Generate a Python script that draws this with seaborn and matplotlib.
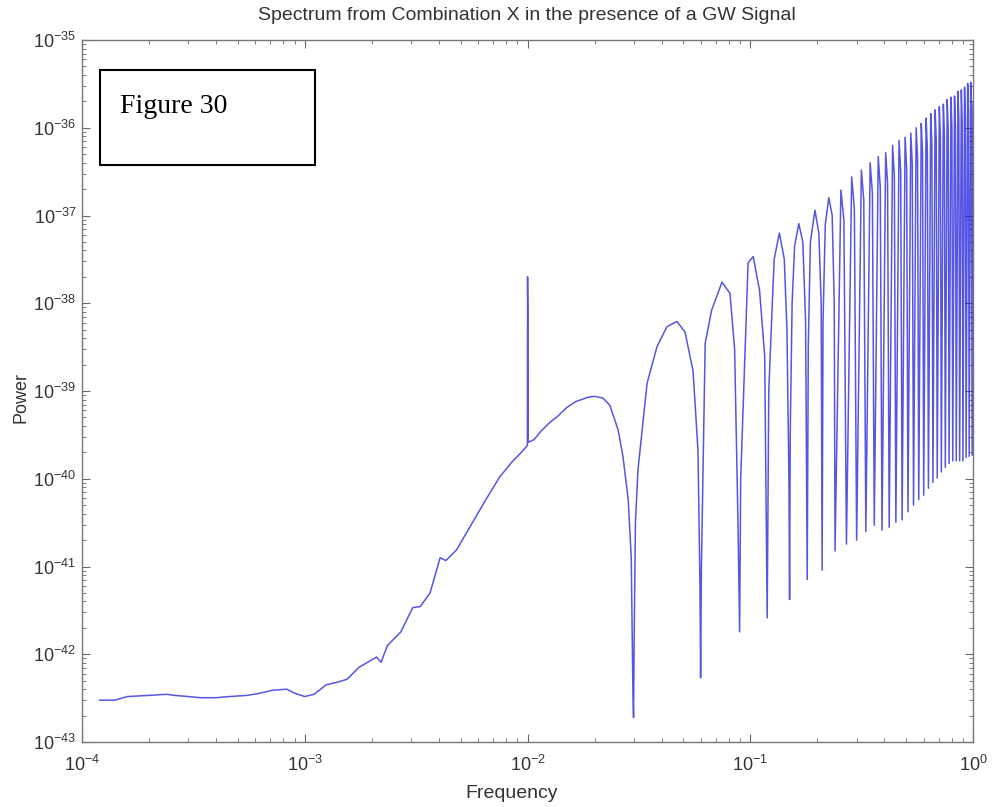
import numpy as np
import pandas as pd
import matplotlib
matplotlib.use("Agg")
import matplotlib.pyplot as plt
import seaborn as sns
from matplotlib.patches import Rectangle
from matplotlib.ticker import LogLocator, FixedFormatter, FixedLocator

# ---- data ----
# low-frequency continuum, the 10 mHz GW line and the first lobes
freq_low = [1.2e-4, 1.4e-4, 1.6e-4, 2.0e-4, 2.4e-4, 2.6e-4, 3.0e-4, 3.4e-4, 4.0e-4,
            4.6e-4, 5.5e-4, 6.3e-4, 7.2e-4, 8.3e-4, 9.0e-4, 1.0e-3, 1.1e-3, 1.25e-3,
            1.4e-3, 1.55e-3, 1.75e-3, 2.1e-3, 2.2e-3, 2.35e-3, 2.7e-3, 3.05e-3, 3.3e-3,
            3.65e-3, 4.05e-3, 4.3e-3, 4.8e-3, 5.5e-3, 6.5e-3, 7.5e-3, 8.5e-3, 9.55e-3,
            0.00998, 0.01000, 0.01003, 0.01006, 0.0107, 0.0115, 0.0126, 0.0137, 0.015,
            0.0165, 0.0187, 0.020, 0.0218, 0.0234, 0.0255, 0.0268, 0.0283, 0.0292,
            0.0297, 0.0299, 0.0301, 0.0305, 0.0313, 0.0344, 0.0381, 0.0422, 0.0468,
            0.0509, 0.0553, 0.0582, 0.0594, 0.0598, 0.0603, 0.0627, 0.067, 0.0746,
            0.081, 0.085, 0.088, 0.0895, 0.0905, 0.0977, 0.103, 0.110, 0.116, 0.119,
            0.121, 0.125, 0.128, 0.135, 0.142, 0.146, 0.149, 0.150, 0.151, 0.154,
            0.158, 0.165, 0.172, 0.177, 0.180, 0.182, 0.186, 0.195, 0.203, 0.208,
            0.210, 0.212, 0.217, 0.225, 0.233, 0.238, 0.240]
power_low = [3.0e-43, 3.0e-43, 3.3e-43, 3.4e-43, 3.5e-43, 3.4e-43, 3.3e-43, 3.2e-43, 3.2e-43,
             3.3e-43, 3.4e-43, 3.6e-43, 3.9e-43, 4.0e-43, 3.6e-43, 3.3e-43, 3.5e-43, 4.5e-43,
             4.8e-43, 5.2e-43, 7.1e-43, 9.3e-43, 8.1e-43, 1.26e-42, 1.8e-42, 3.4e-42, 3.5e-42,
             5.0e-42, 1.26e-41, 1.17e-41, 1.55e-41, 2.8e-41, 5.8e-41, 1.05e-40, 1.55e-40, 2.1e-40,
             2.4e-40, 2.0e-38, 8.9e-39, 2.6e-40, 2.8e-40, 3.5e-40, 4.4e-40, 5.2e-40, 6.5e-40,
             7.6e-40, 8.5e-40, 8.7e-40, 8.3e-40, 6.9e-40, 3.6e-40, 1.8e-40, 5.8e-41, 1.26e-41,
             3.9e-43, 1.9e-43, 1.6e-42, 3.2e-41, 1.26e-40, 1.23e-39, 3.2e-39, 5.4e-39, 6.2e-39,
             4.7e-39, 1.7e-39, 2.1e-40, 6.3e-42, 5.4e-43, 1.0e-41, 3.5e-39, 8.3e-39, 1.74e-38,
             1.3e-38, 3.0e-39, 3.2e-41, 1.8e-42, 1.0e-40, 2.9e-38, 3.4e-38, 1.4e-38, 2.5e-39, 2.6e-42,
             1.0e-39, 7.9e-39, 3.2e-38, 6.3e-38, 3.2e-38, 5.0e-39, 1.0e-40, 4.2e-42, 3.2e-40, 1.0e-38,
             4.5e-38, 8.1e-38, 5.0e-38, 6.3e-39, 7.1e-42, 3.2e-39, 5.0e-38, 1.15e-37, 6.3e-38, 1.0e-38,
             9.1e-42, 6.3e-39, 7.9e-38, 1.6e-37, 1.0e-37, 1.0e-38, 1.5e-41]

# high-frequency lobes: null bottoms, lobe peaks and falling-side levels
null_freq = [0.27, 0.30, 0.33, 0.36, 0.39, 0.42, 0.45, 0.48, 0.51, 0.54, 0.57, 0.60, 0.63,
             0.66, 0.69, 0.72, 0.75, 0.78, 0.81, 0.84, 0.87, 0.90, 0.93, 0.96, 0.99]
null_power = [1.8e-41, 2.0e-41, 2.5e-41, 2.95e-41, 2.6e-41, 2.8e-41, 3.2e-41, 3.4e-41, 4.2e-41,
              5.0e-41, 5.8e-41, 6.5e-41, 7.8e-41, 9.1e-41, 1.02e-40, 1.2e-40, 1.35e-40, 1.5e-40,
              1.6e-40, 1.6e-40, 1.6e-40, 1.6e-40, 1.75e-40, 1.8e-40, 1.85e-40]
peak_freq = [0.255, 0.285, 0.315, 0.345, 0.375, 0.405, 0.435, 0.465, 0.495, 0.525, 0.555,
             0.585, 0.615, 0.645, 0.675, 0.705, 0.735, 0.765, 0.795, 0.825, 0.855, 0.885,
             0.915, 0.945, 0.975, 1.0]
peak_power = [1.95e-37, 2.75e-37, 3.3e-37, 4.0e-37, 4.7e-37, 5.2e-37, 6.3e-37, 7.2e-37, 7.8e-37,
              8.7e-37, 1.0e-36, 1.12e-36, 1.29e-36, 1.45e-36, 1.6e-36, 1.74e-36, 1.86e-36, 2.1e-36,
              2.24e-36, 2.3e-36, 2.6e-36, 2.7e-36, 2.9e-36, 3.2e-36, 3.3e-36, 2.0e-36]
side_freq = [0.263, 0.293, 0.323, 0.353, 0.383, 0.413, 0.443, 0.473, 0.503, 0.533, 0.563,
             0.593, 0.623, 0.653, 0.683, 0.713, 0.743, 0.773, 0.803, 0.833, 0.863, 0.893,
             0.923, 0.953, 0.983]
side_power = [8.8e-38, 1.2e-37, 1.5e-37, 1.8e-37, 2.1e-37, 2.3e-37, 2.8e-37, 3.2e-37, 3.5e-37,
              3.9e-37, 4.5e-37, 5.0e-37, 5.8e-37, 6.5e-37, 7.2e-37, 7.8e-37, 8.4e-37, 9.5e-37,
              1.0e-36, 1.05e-36, 1.2e-36, 1.2e-36, 1.3e-36, 1.45e-36, 1.5e-36]

xtick_vals = [1e-4, 1e-3, 1e-2, 1e-1, 1e0]
xtick_labels = ["-4", "-3", "-2", "-1", "0"]
ytick_vals = [1e-43, 1e-42, 1e-41, 1e-40, 1e-39, 1e-38, 1e-37, 1e-36, 1e-35]
ytick_labels = ["-43", "-42", "-41", "-40", "-39", "-38", "-37", "-36", "-35"]

title_text = "Spectrum from Combination X in the presence of a GW Signal"
xlabel_text = "Frequency"
ylabel_text = "Power"
box_text = "Figure 30"

# ---- build the series ----
df = pd.DataFrame({
    "Frequency": freq_low + null_freq + peak_freq + side_freq,
    "Power": power_low + null_power + peak_power + side_power,
}).sort_values("Frequency", kind="stable").reset_index(drop=True)

sns.set_style("ticks")
plt.rcParams["font.family"] = ["Liberation Sans", "DejaVu Sans"]
plt.rcParams["mathtext.fontset"] = "custom"
plt.rcParams["mathtext.rm"] = "Liberation Sans"

fig = plt.figure(figsize=(9.94, 8.07), dpi=100)
ax = fig.add_axes([0.0825, 0.0805, 0.8965, 0.8699])

sns.lineplot(data=df, x="Frequency", y="Power", ax=ax, sort=False, estimator=None,
             color="#2626dc", linewidth=1.1, alpha=0.78)

ax.set_xscale("log")
ax.set_yscale("log")
ax.set_xlim(1e-4, 1e0)
ax.set_ylim(1e-43, 1e-35)
ax.xaxis.set_major_locator(FixedLocator(xtick_vals))
ax.yaxis.set_major_locator(FixedLocator(ytick_vals))
ax.xaxis.set_major_formatter(FixedFormatter(
    [r"$\mathregular{10^{%s}}$" % e for e in xtick_labels]))
ax.yaxis.set_major_formatter(FixedFormatter(
    [r"$\mathregular{10^{%s}}$" % e for e in ytick_labels]))
ax.xaxis.set_minor_locator(LogLocator(base=10, subs=np.arange(2, 10), numticks=50))
ax.yaxis.set_minor_locator(LogLocator(base=10, subs=np.arange(2, 10), numticks=50))
ax.tick_params(which="both", direction="in", top=True, right=True, colors="#666666",
               labelcolor="#333333")
ax.tick_params(which="major", length=6, labelsize=13)
ax.tick_params(axis="y", which="major", pad=4)
ax.tick_params(axis="x", which="major", pad=9)
ax.tick_params(which="minor", length=3)
for s in ax.spines.values():
    s.set_visible(True)
    s.set_color("#777777")
    s.set_linewidth(1.0)
ax.set_xlabel("")
ax.set_ylabel("")

fig.text(0.530, 0.981, title_text, ha="center", va="center", fontsize=14, color="#333333")
fig.text(0.515, 0.017, xlabel_text, ha="center", va="center", fontsize=14, color="#333333")
fig.text(0.021, 0.508, ylabel_text, ha="center", va="center", fontsize=13, rotation=90,
         color="#333333")

fig.patches.append(Rectangle((0.1006, 0.7955), 0.2163, 0.1177, transform=fig.transFigure,
                             fill=False, edgecolor="black", linewidth=1.5))
fig.text(0.1207, 0.860, box_text, ha="left", va="baseline", fontsize=20,
         family=["Liberation Serif", "DejaVu Serif"], color="black")

fig.savefig("out.png", dpi=100)
